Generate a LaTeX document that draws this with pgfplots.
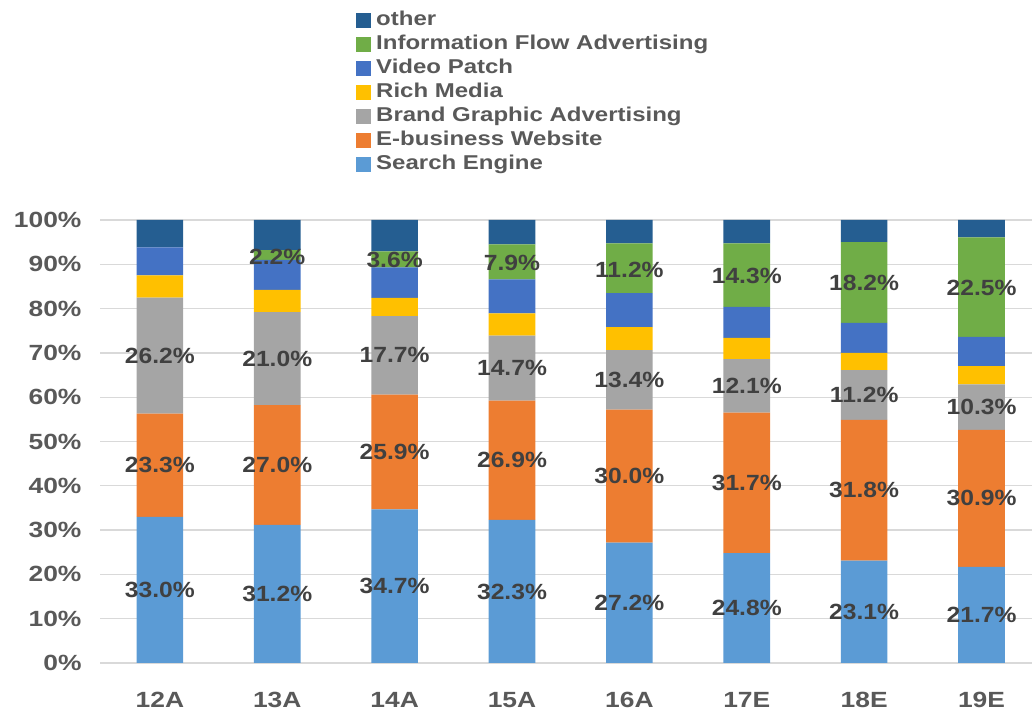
\documentclass[border=0pt]{standalone}
\usepackage{fontspec}
\setmainfont{Liberation Sans}[FakeStretch=1.2]
\newfontfamily\labfont{Liberation Sans}[FakeStretch=1.12]
\usepackage{pgfplots}
\pgfplotsset{compat=1.18}
\definecolor{cSearch}{HTML}{5B9BD5}
\definecolor{cEbus}{HTML}{ED7D31}
\definecolor{cBrand}{HTML}{A5A5A5}
\definecolor{cRich}{HTML}{FFC000}
\definecolor{cVideo}{HTML}{4472C4}
\definecolor{cInfo}{HTML}{70AD47}
\definecolor{cOther}{HTML}{255E91}
\definecolor{tickgray}{HTML}{595959}
\definecolor{labgray}{HTML}{404040}
\definecolor{gridgray}{HTML}{D9D9D9}
\begin{document}
\begin{tikzpicture}
\useasboundingbox (0,0) rectangle (1032bp,713bp);
\begin{axis}[
  at={(100bp,50bp)}, anchor=south west,
  scale only axis, width=932bp, height=443bp,
  ybar stacked, bar width=46.6bp,
  xmin=-0.51, xmax=7.43, ymin=0, ymax=100,
  xtick={0,1,2,3,4,5,6,7},
  xticklabels={12A,13A,14A,15A,16A,17E,18E,19E},
  ytick={0,10,20,30,40,50,60,70,80,90,100},
  yticklabels={0\%,10\%,20\%,30\%,40\%,50\%,60\%,70\%,80\%,90\%,100\%},
  axis line style={draw=none}, major tick length=0pt,
  ymajorgrids, grid style={color=gridgray, line width=1.3bp},
  tick label style={font=\fontsize{22bp}{24bp}\selectfont\bfseries, text=tickgray},
  yticklabel style={xshift=-15bp},
  xticklabel style={yshift=-26bp},
  legend style={at={(0.2747,1.4786)}, anchor=north west, draw=none, fill=none,
    font=\fontsize{20bp}{24bp}\selectfont\bfseries, text=tickgray,
    inner sep=0pt, row sep=0pt,
    nodes={inner sep=0pt, text height=17bp, text depth=7bp},
    /tikz/every odd column/.append style={column sep=5bp}},
  legend cell align=left,
  reverse legend,
  legend image code/.code={\fill[#1] (0bp,-7.5bp) rectangle (15bp,7.5bp);},
]
\addplot[fill=cSearch, draw=none] coordinates {(0,33.0) (1,31.2) (2,34.7) (3,32.3) (4,27.2) (5,24.8) (6,23.1) (7,21.7)};
\addlegendentry{Search Engine}
\addplot[fill=cEbus, draw=none] coordinates {(0,23.3) (1,27.0) (2,25.9) (3,26.9) (4,30.0) (5,31.7) (6,31.8) (7,30.9)};
\addlegendentry{E-business Website}
\addplot[fill=cBrand, draw=none] coordinates {(0,26.2) (1,21.0) (2,17.7) (3,14.7) (4,13.4) (5,12.1) (6,11.2) (7,10.3)};
\addlegendentry{Brand Graphic Advertising}
\addplot[fill=cRich, draw=none] coordinates {(0,5.0) (1,5.0) (2,4.1) (3,5.0) (4,5.2) (5,4.8) (6,3.9) (7,4.1)};
\addlegendentry{Rich Media}
\addplot[fill=cVideo, draw=none] coordinates {(0,6.3) (1,6.8) (2,6.9) (3,7.7) (4,7.7) (5,7.0) (6,6.8) (7,6.6)};
\addlegendentry{Video Patch}
\addplot[fill=cInfo, draw=none] coordinates {(0,0) (1,2.2) (2,3.6) (3,7.9) (4,11.2) (5,14.3) (6,18.2) (7,22.5)};
\addlegendentry{Information Flow Advertising}
\addplot[fill=cOther, draw=none] coordinates {(0,6.2) (1,6.8) (2,7.1) (3,5.5) (4,5.3) (5,5.3) (6,5.0) (7,3.9)};
\addlegendentry{other}
\end{axis}
\begin{axis}[
  at={(100bp,50bp)}, anchor=south west,
  scale only axis, width=932bp, height=443bp,
  xmin=-0.51, xmax=7.43, ymin=0, ymax=100,
  hide axis, clip=false,
]
\addplot[draw=none, mark=none, nodes near coords, point meta=explicit symbolic,
  nodes near coords align=center,
  every node near coord/.style={font=\labfont\fontsize{22bp}{24bp}\selectfont\bfseries, text=labgray, anchor=center, inner sep=0pt}]
  coordinates {
  (0,16.5) [33.0\%] (1,15.6) [31.2\%] (2,17.35) [34.7\%] (3,16.15) [32.3\%]
  (4,13.6) [27.2\%] (5,12.4) [24.8\%] (6,11.55) [23.1\%] (7,10.85) [21.7\%]
  (0,44.65) [23.3\%] (1,44.7) [27.0\%] (2,47.65) [25.9\%] (3,45.75) [26.9\%]
  (4,42.2) [30.0\%] (5,40.65) [31.7\%] (6,39.0) [31.8\%] (7,37.15) [30.9\%]
  (0,69.4) [26.2\%] (1,68.7) [21.0\%] (2,69.45) [17.7\%] (3,66.55) [14.7\%]
  (4,63.9) [13.4\%] (5,62.55) [12.1\%] (6,60.5) [11.2\%] (7,57.75) [10.3\%]
  (1,91.6) [2.2\%] (2,91.0) [3.6\%] (3,90.2) [7.9\%]
  (4,88.8) [11.2\%] (5,87.3) [14.3\%] (6,85.7) [18.2\%] (7,84.6) [22.5\%]
  };
\end{axis}
\end{tikzpicture}
\end{document}
